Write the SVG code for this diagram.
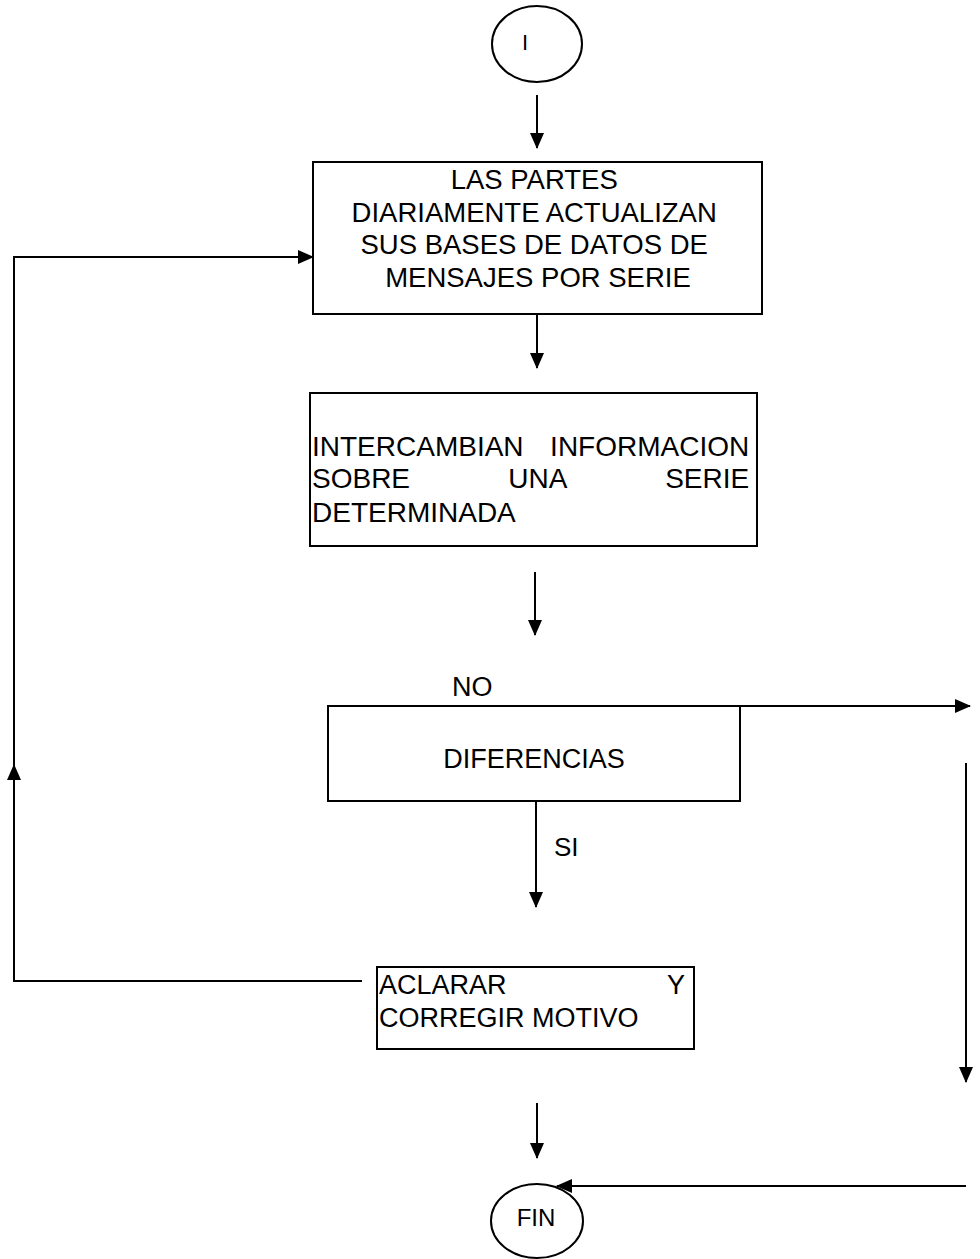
<svg xmlns="http://www.w3.org/2000/svg" width="980" height="1259" viewBox="0 0 980 1259">
<style>
.box{fill:none;stroke:#000;stroke-width:2}
.ln{fill:none;stroke:#000;stroke-width:2}
.t{font-family:"Liberation Sans",Arial,sans-serif;fill:#000}
</style>
<defs>
<marker id="ah" markerUnits="userSpaceOnUse" markerWidth="16" markerHeight="14" refX="15" refY="7" orient="auto" viewBox="0 0 16 14">
<path d="M0,0 L16,7 L0,14 z" fill="#000"/>
</marker>
</defs>
<rect width="980" height="1259" fill="#fff"/>
<g id="connectors">
<path class="ln" d="M537,95 V148" marker-end="url(#ah)"/>
<path class="ln" d="M537,315 V368" marker-end="url(#ah)"/>
<path class="ln" d="M535,572 V635" marker-end="url(#ah)"/>
<path class="ln" d="M740,706 H970" marker-end="url(#ah)"/>
<path class="ln" d="M536,801 V907" marker-end="url(#ah)"/>
<path class="ln" d="M362,981 H14 V765" marker-end="url(#ah)"/>
<path class="ln" d="M14,775 V257 H313" marker-end="url(#ah)"/>
<path class="ln" d="M966,763 V1082" marker-end="url(#ah)"/>
<path class="ln" d="M537,1103 V1158" marker-end="url(#ah)"/>
<path class="ln" d="M966,1186 H557" marker-end="url(#ah)"/>
<text class="t" x="452" y="696" font-size="27">NO</text>
<text class="t" x="554" y="856" font-size="26">SI</text>
</g>
<g id="inicio">
<ellipse class="box" cx="537" cy="44" rx="45" ry="38"/>
<text class="t" x="522" y="50" font-size="22">I</text>
</g>
<g id="actualizan">
<rect class="box" x="313" y="162" width="449" height="152"/>
<text class="t" font-size="27.5" text-anchor="middle">
<tspan x="538" y="189">LAS PARTES</tspan>
<tspan x="538" y="222">DIARIAMENTE ACTUALIZAN</tspan>
<tspan x="538" y="254">SUS BASES DE DATOS DE</tspan>
<tspan x="538" y="287">MENSAJES POR SERIE</tspan>
</text>
</g>
<g id="intercambian">
<rect class="box" x="310" y="393" width="447" height="153"/>
<text class="t" font-size="28">
<tspan x="312" y="456">INTERCAMBIAN</tspan>
<tspan x="757" y="456" text-anchor="end">INFORMACION</tspan>
<tspan x="312" y="488">SOBRE</tspan>
<tspan x="541" y="488" text-anchor="middle">UNA</tspan>
<tspan x="757" y="488" text-anchor="end">SERIE</tspan>
<tspan x="312" y="522">DETERMINADA</tspan>
</text>
</g>
<g id="diferencias">
<rect class="box" x="328" y="706" width="412" height="95"/>
<text class="t" x="534" y="768" font-size="27" text-anchor="middle">DIFERENCIAS</text>
</g>
<g id="aclarar">
<rect class="box" x="377" y="967" width="317" height="82"/>
<text class="t" font-size="27">
<tspan x="379" y="994">ACLARAR</tspan>
<tspan x="692" y="994" text-anchor="end">Y</tspan>
<tspan x="379" y="1027">CORREGIR MOTIVO</tspan>
</text>
</g>
<g id="fin">
<ellipse class="box" cx="537" cy="1221" rx="46" ry="37"/>
<text class="t" x="536" y="1226" font-size="24" text-anchor="middle">FIN</text>
</g>
</svg>
